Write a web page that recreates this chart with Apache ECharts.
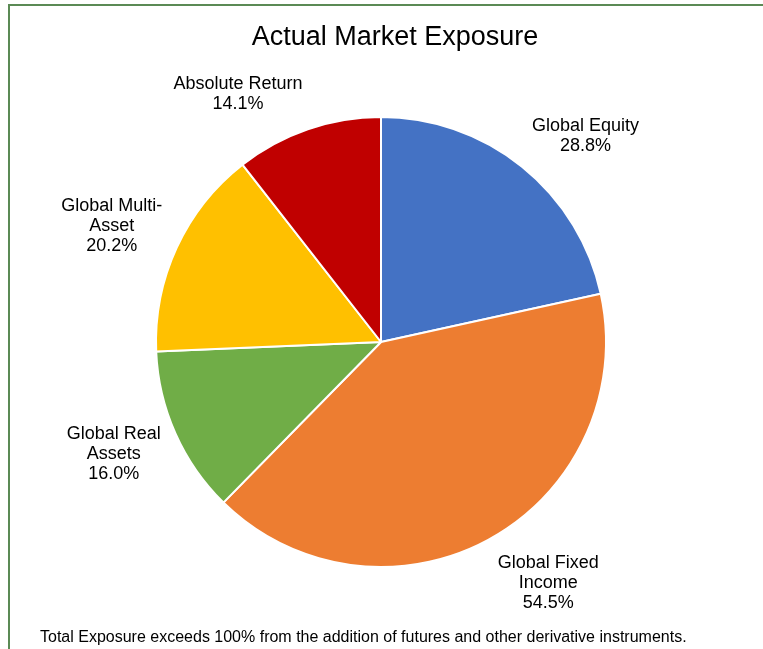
<!DOCTYPE html>
<html>
<head>
<meta charset="utf-8">
<title>Actual Market Exposure</title>
<script src="https://cdn.jsdelivr.net/npm/echarts@6/dist/echarts.min.js"></script>
<style>
html, body {
  margin: 0;
  padding: 0;
  background: #fff;
}
.frame {
  position: absolute;
  left: 8px;
  top: 4px;
  width: 900px;
  height: 800px;
  border-left: 2px solid #5b8a55;
  border-top: 2px solid #5b8a55;
}
#chart {
  position: absolute;
  left: 0;
  top: 0;
  width: 763px;
  height: 649px;
}
</style>
</head>
<body>
<div class="frame"></div>
<div id="chart"></div>
<script>
// 数据
var categories = ['Global Equity', 'Global Fixed\nIncome', 'Global Real\nAssets', 'Global Multi-\nAsset', 'Absolute Return'];
var values = [28.8, 54.5, 16.0, 20.2, 14.1];

var palette = ['#4472C4', '#ED7D31', '#70AD47', '#FFC000', '#C00000'];
var FONT = '"Liberation Sans", Arial, sans-serif';

// 饼图位置
var cx = 381, cy = 342, R = 225;

var total = values.reduce(function (s, v) { return s + v; }, 0);
var midAngles = [];
var acc = 0;
for (var i = 0; i < values.length; i++) {
  midAngles.push((acc + values[i] / 2) / total * Math.PI * 2);
  acc += values[i];
}

var pieData = [];
for (let i = 0; i < categories.length; i++) {
  pieData.push({ name: categories[i], value: values[i], itemStyle: { color: palette[i] } });
}

var myChart = echarts.init(document.getElementById('chart'), null, { renderer: 'canvas' });
myChart.setOption({
  animation: false,
  graphic: [
    {
      type: 'text',
      x: 395, y: 38,
      style: { text: 'Actual Market Exposure', fill: '#000', font: '27px ' + FONT, align: 'center', verticalAlign: 'middle' }
    },
    {
      type: 'text',
      x: 40, y: 638,
      style: {
        text: 'Total Exposure exceeds 100% from the addition of futures and other derivative instruments.',
        fill: '#000', font: '16px ' + FONT, align: 'left', verticalAlign: 'middle'
      }
    }
  ],
  series: [{
    type: 'pie',
    center: [cx, cy],
    radius: R,
    startAngle: 90,
    clockwise: true,
    avoidLabelOverlap: false,
    itemStyle: { borderColor: '#fff', borderWidth: 2 },
    emphasis: { disabled: true },
    label: {
      show: true,
      position: 'outside',
      color: '#000',
      fontFamily: FONT,
      fontSize: 18,
      lineHeight: 20,
      align: 'center',
      formatter: function (p) {
        return p.name + '\n' + values[p.dataIndex].toFixed(1) + '%';
      }
    },
    labelLine: { show: false },
    labelLayout: function (params) {
      // 标签放在扇区外侧，类似 Excel 的 "数据标签外"
      var a = midAngles[params.dataIndex];
      var s = Math.sin(a), c = Math.cos(a);
      var ax = cx + (R + 16) * s;
      var ay = cy - (R + 16) * c;
      var w = params.labelRect.width, h = params.labelRect.height;
      var fy = Math.max(-1, Math.min(1, c * 1.15));
      return {
        x: ax + (s >= 0 ? 1 : -1) * w / 2,
        y: ay - fy * h / 2,
        align: 'center',
        verticalAlign: 'middle'
      };
    },
    data: pieData
  }]
});
</script>
</body>
</html>
